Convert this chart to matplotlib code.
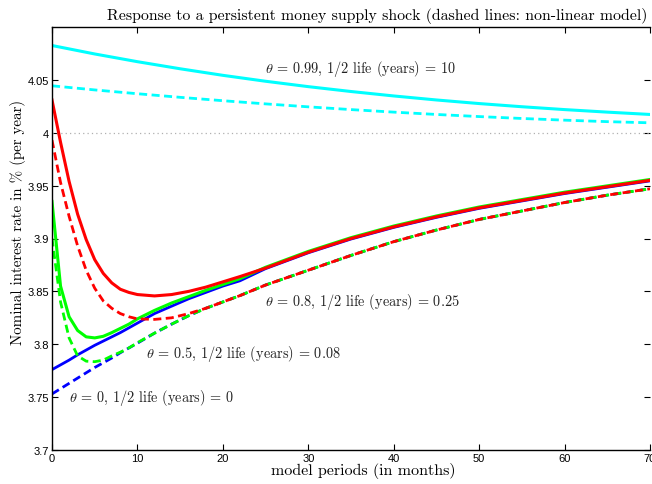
import matplotlib
matplotlib.use("Agg")
import matplotlib.pyplot as plt

plt.rcParams["mathtext.fontset"] = "cm"
plt.rcParams["axes.unicode_minus"] = False

# model periods (months) at which the curves were read
months = [0, 1, 2, 3, 4, 5, 6, 7, 8, 9, 10, 12, 14, 16, 18, 20, 22,
          25, 30, 35, 40, 45, 50, 55, 60, 65, 70]

# theta = 0 (blue)
blue_lin = [3.776, 3.7805, 3.785, 3.790, 3.7945, 3.799, 3.803, 3.807, 3.811,
            3.8155, 3.820, 3.829, 3.836, 3.843, 3.849, 3.855, 3.860,
            3.8715, 3.8865, 3.8995, 3.9105, 3.920, 3.9285, 3.9355, 3.9425,
            3.9485, 3.9545]
blue_nl = [3.753, 3.758, 3.763, 3.768, 3.773, 3.778, 3.7825, 3.787, 3.792,
           3.7965, 3.801, 3.8105, 3.819, 3.827, 3.834, 3.840, 3.846,
           3.856, 3.870, 3.884, 3.897, 3.908, 3.918, 3.926, 3.934,
           3.941, 3.947]

# theta = 0.5 (green)
green_lin = [3.935, 3.855, 3.826, 3.813, 3.807, 3.806, 3.8075, 3.811, 3.815,
             3.819, 3.824, 3.832, 3.839, 3.845, 3.851, 3.8565, 3.862,
             3.8728, 3.8878, 3.9008, 3.9118, 3.9213, 3.9298, 3.9368,
             3.9438, 3.9498, 3.9558]
green_nl = [3.900, 3.840, 3.806, 3.789, 3.784, 3.7835, 3.785, 3.789, 3.7925,
            3.7965, 3.8015, 3.8105, 3.819, 3.827, 3.834, 3.840, 3.846,
            3.856, 3.870, 3.884, 3.897, 3.908, 3.918, 3.926, 3.934,
            3.941, 3.947]

# theta = 0.8 (red)
red_lin = [4.031, 3.991, 3.954, 3.923, 3.899, 3.880, 3.867, 3.858, 3.852,
           3.849, 3.847, 3.8457, 3.847, 3.850, 3.854, 3.859, 3.864,
           3.872, 3.887, 3.900, 3.911, 3.9205, 3.929, 3.936, 3.943,
           3.949, 3.955]
red_nl = [3.993, 3.953, 3.921, 3.893, 3.870, 3.853, 3.841, 3.834, 3.829,
          3.826, 3.824, 3.8235, 3.825, 3.829, 3.834, 3.840, 3.846,
          3.856, 3.870, 3.884, 3.897, 3.908, 3.918, 3.926, 3.934,
          3.941, 3.947]

# theta = 0.99 (cyan)
months_cyan = [0, 5, 10, 15, 20, 25, 30, 35, 40, 45, 50, 55, 60, 65, 70]
cyan_lin = [4.0825, 4.0745, 4.0672, 4.0605, 4.0543, 4.0487, 4.0436, 4.039,
            4.0348, 4.031, 4.0276, 4.0246, 4.0219, 4.0195, 4.0173]
cyan_nl = [4.0444, 4.0405, 4.0369, 4.0335, 4.0303, 4.0273, 4.0245, 4.0219,
           4.0195, 4.0173, 4.0153, 4.0135, 4.0119, 4.0105, 4.0094]

steady_state = 4.0
xticks = [0, 10, 20, 30, 40, 50, 60, 70]
yticks = [3.7, 3.75, 3.8, 3.85, 3.9, 3.95, 4.0, 4.05]
ytick_labels = ["3.7", "3.75", "3.8", "3.85", "3.9", "3.95", "4", "4.05"]

fig = plt.figure(figsize=(6.52, 4.85), dpi=100)
ax = fig.add_axes([52 / 652, 34 / 485, 598 / 652, 423 / 485])

ax.axhline(steady_state, color="#b0b0b0", lw=0.9, ls=(0, (1, 2.5)))

dash = (0, (2.9, 1.6))
ax.plot(months, blue_lin, color="#0000ff", lw=2.0)
ax.plot(months, blue_nl, color="#0000ff", lw=2.0, ls=dash)
ax.plot(months, green_lin, color="#00ff00", lw=2.2)
ax.plot(months, green_nl, color="#00ff00", lw=2.0, ls=dash)
ax.plot(months, red_lin, color="#ff0000", lw=2.2)
ax.plot(months, red_nl, color="#ff0000", lw=2.0, ls=dash)
ax.plot(months_cyan, cyan_lin, color="#00ffff", lw=2.2)
ax.plot(months_cyan, cyan_nl, color="#00ffff", lw=2.0, ls=dash)

ax.set_xlim(0, 70)
ax.set_ylim(3.7, 4.1)
ax.set_xticks(xticks)
ax.set_yticks(yticks)
ax.set_yticklabels(ytick_labels)
ax.tick_params(direction="in", length=4, width=0.8, top=True, right=True,
               labelsize=8, pad=2)
for lab in ax.get_xticklabels() + ax.get_yticklabels():
    lab.set_fontfamily("Liberation Sans")
ax.spines["right"].set_visible(False)
for s in ["left", "bottom", "top"]:
    ax.spines[s].set_linewidth(1.0)

lbl = dict(family="cmr10", fontsize=10.3, color="#222222", va="center", ha="left")
ax.text(24.9, 4.0608, r"$\theta$ = 0.99, 1/2 life (years) = 10", **lbl)
ax.text(24.9, 3.841, r"$\theta$ = 0.8, 1/2 life (years) = 0.25", **lbl)
ax.text(11.0, 3.792, r"$\theta$ = 0.5, 1/2 life (years) = 0.08", **lbl)
ax.text(2.0, 3.750, r"$\theta$ = 0, 1/2 life (years) = 0", **lbl)

ax.set_xlabel("model periods (in months)", family="cmr10", fontsize=11.5,
              va="center")
ax.xaxis.set_label_coords((363 - 52) / 598, -(471 - 451) / 423)
ax.set_ylabel("Nominal interest rate in % (per year)", family="cmr10",
              fontsize=10.8, va="center")
ax.yaxis.set_label_coords((18 - 52) / 598, (451 - 222) / 423)
fig.text(107 / 652, 1 - 16 / 485,
         "Response to a persistent money supply shock (dashed lines: non-linear model)",
         family="cmr10", fontsize=11.4, ha="left", va="center")

fig.savefig("out.png", dpi=100)
